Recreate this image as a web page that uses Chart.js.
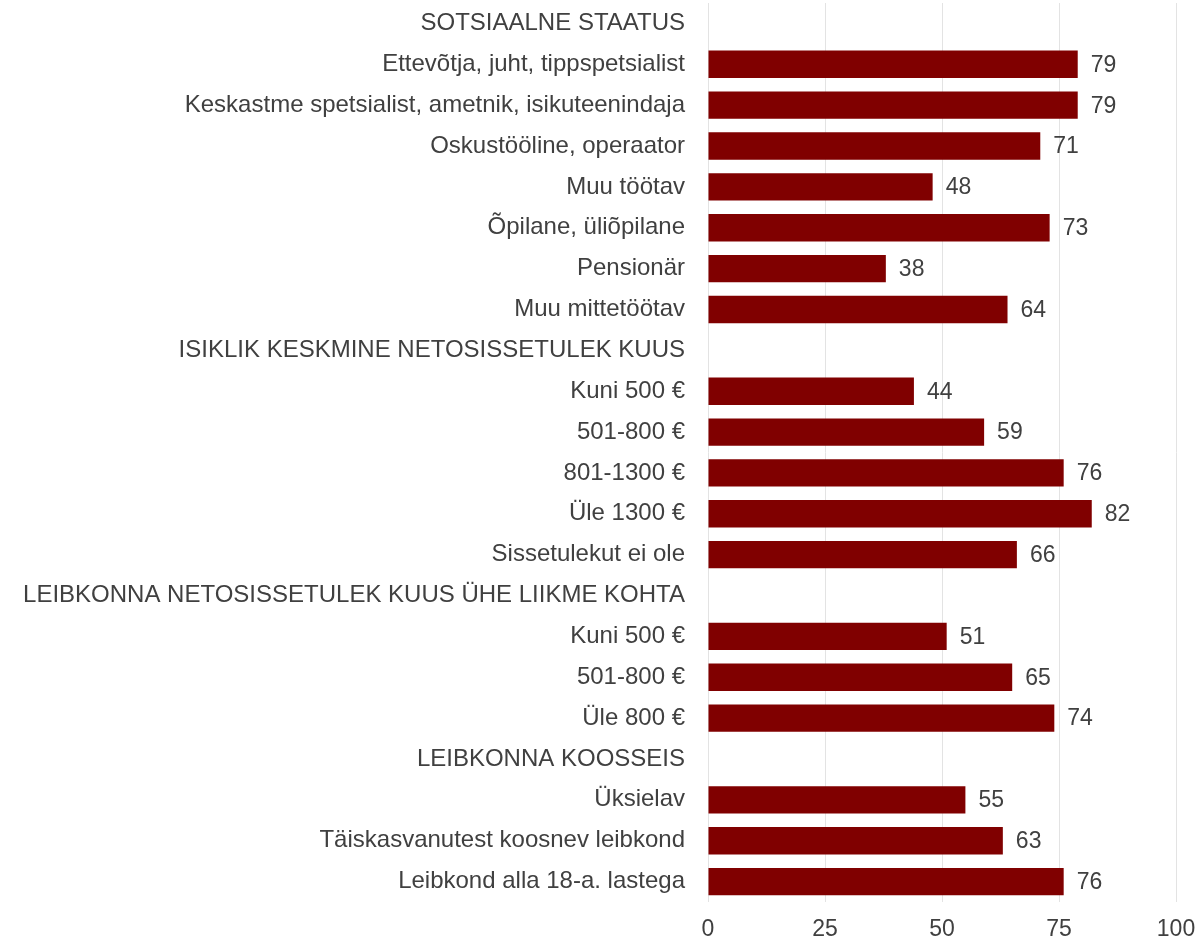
<!DOCTYPE html>
<html>
<head>
<meta charset="utf-8">
<script src="https://cdn.jsdelivr.net/npm/chart.js@4/dist/chart.umd.min.js"></script>
<style>
html,body{margin:0;padding:0;background:#fff;}
#wrap{width:1198px;height:942px;position:relative;}
</style>
</head>
<body>
<div id="wrap"><canvas id="c" width="1198" height="942"></canvas></div>
<script>
const categories = [
  "SOTSIAALNE STAATUS",
  "Ettevõtja, juht, tippspetsialist",
  "Keskastme spetsialist, ametnik, isikuteenindaja",
  "Oskustööline, operaator",
  "Muu töötav",
  "Õpilane, üliõpilane",
  "Pensionär",
  "Muu mittetöötav",
  "ISIKLIK KESKMINE NETOSISSETULEK KUUS",
  "Kuni 500 €",
  "501-800 €",
  "801-1300 €",
  "Üle 1300 €",
  "Sissetulekut ei ole",
  "LEIBKONNA NETOSISSETULEK KUUS ÜHE LIIKME KOHTA",
  "Kuni 500 €",
  "501-800 €",
  "Üle 800 €",
  "LEIBKONNA KOOSSEIS",
  "Üksielav",
  "Täiskasvanutest koosnev leibkond",
  "Leibkond alla 18-a. lastega"
];
const values = [null,79,79,71,48,73,38,64,null,44,59,76,82,66,null,51,65,74,null,55,63,76];
const xTicks = [0,25,50,75,100];

const TEXT = '#404040';
const FONT = 'Liberation Sans, Arial, sans-serif';

const valueLabels = {
  id: 'valueLabels',
  afterDatasetsDraw(chart) {
    const ctx = chart.ctx;
    const meta = chart.getDatasetMeta(0);
    ctx.save();
    ctx.font = '23px ' + FONT;
    ctx.fillStyle = TEXT;
    ctx.textAlign = 'left';
    ctx.textBaseline = 'middle';
    meta.data.forEach((el, i) => {
      const v = values[i];
      if (v === null || v === undefined) return;
      ctx.fillText(String(Math.round(v)), el.x + 13, el.y + 1);
    });
    ctx.restore();
  }
};

new Chart(document.getElementById('c'), {
  type: 'bar',
  data: {
    labels: categories,
    datasets: [{
      data: values,
      backgroundColor: '#800000',
      borderWidth: 0,
      barPercentage: 0.67,
      categoryPercentage: 1.0
    }]
  },
  options: {
    indexAxis: 'y',
    responsive: false,
    animation: false,
    devicePixelRatio: 1,
    layout: { padding: { top: 3, right: 22, bottom: 0, left: 0 } },
    plugins: { legend: { display: false }, tooltip: { enabled: false } },
    scales: {
      x: {
        min: 0, max: 100,
        afterBuildTicks(scale) { scale.ticks = xTicks.map(v => ({ value: v })); },
        grid: { color: '#e3e3e3', lineWidth: 1, drawTicks: false },
        border: { display: false },
        ticks: { color: TEXT, font: { family: FONT, size: 23 }, padding: 14 },
        afterFit(scale) { scale.paddingLeft = 0; scale.paddingRight = 0; scale.height = 40; }
      },
      y: {
        grid: { display: false, drawTicks: false },
        border: { display: false },
        ticks: { color: TEXT, font: { family: FONT, size: 24 }, padding: 23, autoSkip: false },
        afterFit(scale) { scale.width = 708; scale.paddingTop = 0; scale.paddingBottom = 0; }
      }
    }
  },
  plugins: [valueLabels]
});
</script>
</body>
</html>
